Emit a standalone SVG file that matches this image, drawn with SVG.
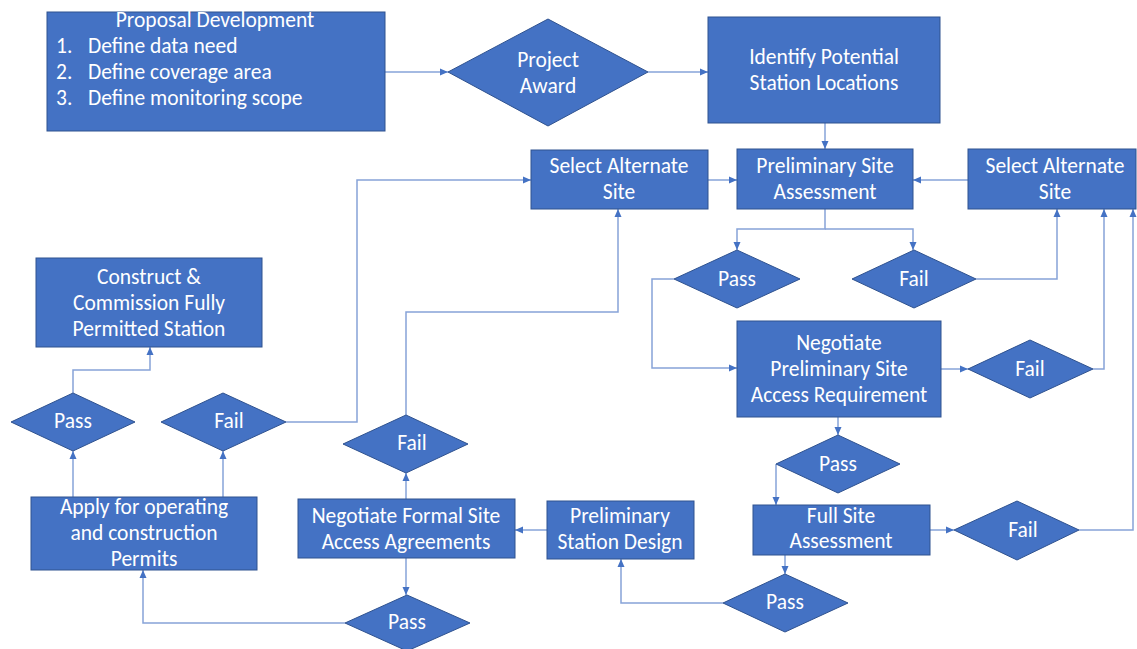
<svg xmlns="http://www.w3.org/2000/svg" width="1137" height="649" viewBox="0 0 1137 649">
<defs>
<style>
.n{fill:#4472C4;stroke:#2F528F;stroke-width:1}
.t{font-family:Carlito,Lato,"Liberation Sans",sans-serif;font-size:21.5px;fill:#ffffff;text-anchor:middle}
.l{font-family:Carlito,Lato,"Liberation Sans",sans-serif;font-size:21.5px;fill:#ffffff}
.c{fill:none;stroke:#86A3D8;stroke-width:1.5;marker-end:url(#ah)}
</style>
<marker id="ah" markerUnits="userSpaceOnUse" markerWidth="8" markerHeight="8" viewBox="0 0 8 8" refX="8" refY="4" orient="auto">
<path d="M0,0.5 L8,4 L0,7.5 Z" fill="#4472C4"/>
</marker>
</defs>
<rect width="1137" height="649" fill="#ffffff"/>
<g id="connectors">
<path class="c" d="M385,72 H448"/>
<path class="c" d="M648,72 H708"/>
<path class="c" d="M825,123 V149"/>
<path class="c" d="M708,180 H737"/>
<path class="c" d="M968,180 H913"/>
<path class="c" d="M825,209 V229 H737 V250"/>
<path class="c" d="M825,229 H913 V250"/>
<path class="c" d="M976,279 H1057 V209"/>
<path class="c" d="M674,279 H652 V368 H737"/>
<path class="c" d="M941,369 H968"/>
<path class="c" d="M1093,369 H1104 V209"/>
<path class="c" d="M838,417 V435"/>
<path class="c" d="M776,464 V505"/>
<path class="c" d="M930,530 H954"/>
<path class="c" d="M1079,530 H1133 V209"/>
<path class="c" d="M785,555 V574"/>
<path class="c" d="M723,603 H621 V559"/>
<path class="c" d="M547,530 H515"/>
<path class="c" d="M406,499 V473"/>
<path class="c" d="M406,558 V595"/>
<path class="c" d="M345,623 H143 V570"/>
<path class="c" d="M73,497 V451"/>
<path class="c" d="M223,497 V451"/>
<path class="c" d="M73,393 V370 H150 V347"/>
<path class="c" d="M286,422 H357 V180 H531"/>
<path class="c" d="M406,415 V312 H618 V209"/>
</g>
<g id="proposal">
<rect class="n" x="47" y="12" width="338" height="119"/>
<text class="t" x="215" y="27">Proposal Development</text>
<text class="l" x="56" y="53">1.</text><text class="l" x="88" y="53">Define data need</text>
<text class="l" x="56" y="79">2.</text><text class="l" x="88" y="79">Define coverage area</text>
<text class="l" x="56" y="105">3.</text><text class="l" x="88" y="105">Define monitoring scope</text>
</g>
<g id="project-award">
<polygon class="n" points="448,72 548,19 648,72 548,126"/>
<text class="t" x="548" y="67">Project</text>
<text class="t" x="548" y="93">Award</text>
</g>
<g id="identify">
<rect class="n" x="708" y="17" width="232" height="106"/>
<text class="t" x="824" y="64">Identify Potential</text>
<text class="t" x="824" y="90">Station Locations</text>
</g>
<g id="select-alt-mid">
<rect class="n" x="531" y="150" width="177" height="59"/>
<text class="t" x="619" y="173">Select Alternate</text>
<text class="t" x="619" y="199">Site</text>
</g>
<g id="prelim-site">
<rect class="n" x="737" y="149" width="176" height="60"/>
<text class="t" x="825" y="173">Preliminary Site</text>
<text class="t" x="825" y="199">Assessment</text>
</g>
<g id="select-alt-right">
<rect class="n" x="968" y="149" width="168" height="60"/>
<text class="t" x="1055" y="173">Select Alternate</text>
<text class="t" x="1055" y="199">Site</text>
</g>
<g id="pass1">
<polygon class="n" points="674,279 737,250 800,279 737,308"/>
<text class="t" x="737" y="286">Pass</text>
</g>
<g id="fail1">
<polygon class="n" points="852,279 914,250 976,279 914,308"/>
<text class="t" x="914" y="286">Fail</text>
</g>
<g id="construct">
<rect class="n" x="36" y="258" width="226" height="89"/>
<text class="t" x="149" y="284">Construct &amp;</text>
<text class="t" x="149" y="310">Commission Fully</text>
<text class="t" x="149" y="336">Permitted Station</text>
</g>
<g id="negotiate-prelim">
<rect class="n" x="737" y="321" width="204" height="96"/>
<text class="t" x="839" y="350">Negotiate</text>
<text class="t" x="839" y="376">Preliminary Site</text>
<text class="t" x="839" y="402">Access Requirement</text>
</g>
<g id="fail2">
<polygon class="n" points="968,369 1030,340 1093,369 1030,398"/>
<text class="t" x="1030" y="376">Fail</text>
</g>
<g id="pass2">
<polygon class="n" points="776,464 838,435 900,464 838,493"/>
<text class="t" x="838" y="471">Pass</text>
</g>
<g id="pass-left">
<polygon class="n" points="11,422 73,393 135,422 73,451"/>
<text class="t" x="73" y="428">Pass</text>
</g>
<g id="fail-left">
<polygon class="n" points="161,422 223,393 286,422 223,451"/>
<text class="t" x="229" y="428">Fail</text>
</g>
<g id="fail-mid">
<polygon class="n" points="343,444 406,415 468,444 406,473"/>
<text class="t" x="412" y="450">Fail</text>
</g>
<g id="apply">
<rect class="n" x="31" y="497" width="226" height="73"/>
<text class="t" x="144" y="514">Apply for operating</text>
<text class="t" x="144" y="540">and construction</text>
<text class="t" x="144" y="566">Permits</text>
</g>
<g id="negotiate-formal">
<rect class="n" x="298" y="499" width="217" height="59"/>
<text class="t" x="406" y="523">Negotiate Formal Site</text>
<text class="t" x="406" y="549">Access Agreements</text>
</g>
<g id="prelim-station">
<rect class="n" x="547" y="501" width="147" height="58"/>
<text class="t" x="620" y="523">Preliminary</text>
<text class="t" x="620" y="549">Station Design</text>
</g>
<g id="full-site">
<rect class="n" x="753" y="505" width="177" height="50"/>
<text class="t" x="841" y="523">Full Site</text>
<text class="t" x="841" y="548">Assessment</text>
</g>
<g id="fail3">
<polygon class="n" points="954,530 1017,501 1079,530 1017,560"/>
<text class="t" x="1023" y="537">Fail</text>
</g>
<g id="pass3">
<polygon class="n" points="723,603 785,574 848,603 785,632"/>
<text class="t" x="785" y="609">Pass</text>
</g>
<g id="pass4">
<polygon class="n" points="345,623 407,595 470,623 407,651"/>
<text class="t" x="407" y="629">Pass</text>
</g>
</svg>
